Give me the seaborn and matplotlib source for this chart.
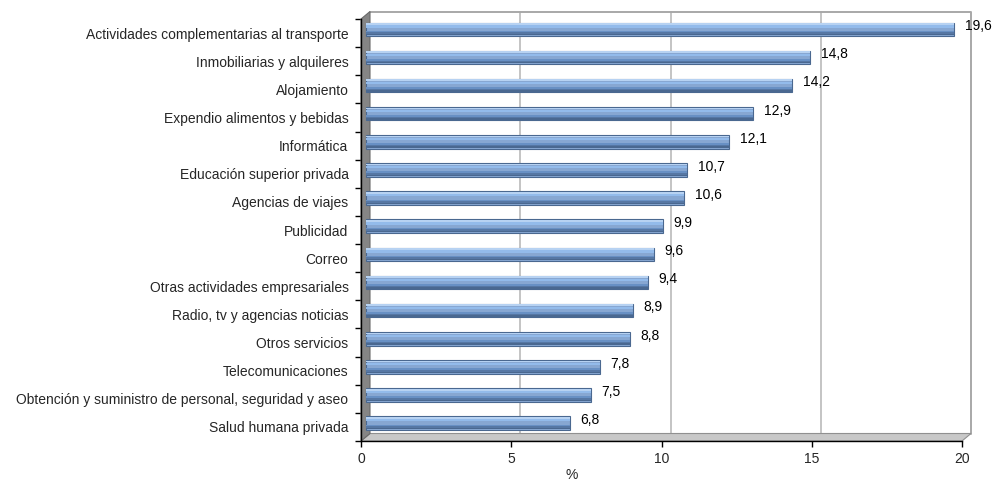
import matplotlib
matplotlib.use("Agg")
import matplotlib.pyplot as plt
import matplotlib.transforms as mtransforms
from matplotlib.patches import Polygon
import seaborn as sns
import pandas as pd
import numpy as np

categories = [
    "Actividades complementarias al transporte",
    "Inmobiliarias y alquileres",
    "Alojamiento",
    "Expendio alimentos y bebidas",
    "Informática",
    "Educación superior privada",
    "Agencias de viajes",
    "Publicidad",
    "Correo",
    "Otras actividades empresariales",
    "Radio, tv y agencias noticias",
    "Otros servicios",
    "Telecomunicaciones",
    "Obtención y suministro de personal, seguridad y aseo",
    "Salud humana privada",
]
values = [19.6, 14.8, 14.2, 12.9, 12.1, 10.7, 10.6, 9.9, 9.6, 9.4, 8.9, 8.8, 7.8, 7.5, 6.8]
x_ticks = [0, 5, 10, 15, 20]

sns.set_theme(style="white")
plt.rcParams["font.family"] = ["Liberation Sans", "DejaVu Sans"]

W, H = 993, 483
fig = plt.figure(figsize=(W / 100, H / 100), dpi=100)
ax = fig.add_axes([361 / W, 42 / H, 601 / W, 422 / H])

bar_w = 0.48
df = pd.DataFrame({"cat": categories, "val": values})
sns.barplot(data=df, x="val", y="cat", orient="h", color="#7aa6de",
            edgecolor="#4a6890", linewidth=0.8, width=bar_w, ax=ax, zorder=3)
ypos = np.arange(len(values))
# fake excel gradient with a few horizontal strips (top = smaller y)
strips = [(-0.19, 0.06, "#b7d2f2"), (-0.10, 0.08, "#93bbeb"),
          (0.08, 0.06, "#6890c4"), (0.14, 0.06, "#5677a4"), (0.19, 0.05, "#4a6890")]
for off, h, c in strips:
    ax.barh(ypos + off, values, height=h, color=c, zorder=4, linewidth=0)

# bars sit half-way into the 3D depth
depth_x, depth_y = 0.09, 0.075  # inches
mid = mtransforms.ScaledTranslation(depth_x / 2, depth_y / 2, fig.dpi_scale_trans)
for p in list(ax.patches):
    p.set_transform(ax.transData + mid)

for i, v in enumerate(values):
    ax.annotate(f"{v:.1f}".replace(".", ","), xy=(v, i), xytext=(11, 5),
                textcoords="offset points", va="center", ha="left", fontsize=10,
                color="black")

ax.set_xlim(0, 20)
ax.set_ylim(len(values) - 0.5, -0.5)

# back wall, gridlines, floor and left wall
back = mtransforms.ScaledTranslation(depth_x, depth_y, fig.dpi_scale_trans)
grid_tr = mtransforms.blended_transform_factory(ax.transData, ax.transAxes) + back
for x in x_ticks[1:-1]:
    ax.plot([x, x], [0, 1], transform=grid_tr, color="#c4c4c4", lw=1.4,
            zorder=1, clip_on=False)
ax.plot([0, 1, 1], [1, 1, 0], transform=ax.transAxes + back, color="#a8a8a8",
        lw=1.4, zorder=1, clip_on=False)

dxa, dya = depth_x * 100 / 601, depth_y * 100 / 422
floor = Polygon([(0, 0), (1, 0), (1 + dxa, dya), (dxa, dya)], closed=True,
                transform=ax.transAxes, facecolor="#c8c8c8", edgecolor="#909090",
                lw=0.8, zorder=2, clip_on=False)
wall = Polygon([(0, 0), (0, 1), (dxa, 1 + dya), (dxa, dya)], closed=True,
               transform=ax.transAxes, facecolor="#858585", edgecolor="#6a6a6a",
               lw=0.8, zorder=2, clip_on=False)
ax.add_patch(floor)
ax.add_patch(wall)

for s in ["top", "right"]:
    ax.spines[s].set_visible(False)
for s in ["left", "bottom"]:
    ax.spines[s].set_color("black")
    ax.spines[s].set_linewidth(1)
    ax.spines[s].set_zorder(5)

ax.set_xticks(x_ticks)
ax.set_xticklabels([str(t) for t in x_ticks])
ax.tick_params(axis="x", bottom=True, length=4, width=1, color="black",
               direction="out", pad=4, labelsize=10)
ax.set_yticks(ypos)
ax.set_yticks(np.arange(-0.5, len(values), 1), minor=True)
ax.tick_params(axis="y", which="major", left=False, length=0, pad=9, labelsize=10)
ax.tick_params(axis="y", which="minor", left=True, length=4, width=1,
               color="black", direction="out")
ax.set_xlabel("%", fontsize=10)
ax.xaxis.set_label_coords(0.35, -0.064)
ax.set_ylabel("")
ax.grid(False)

fig.savefig("out.png", dpi=100)
